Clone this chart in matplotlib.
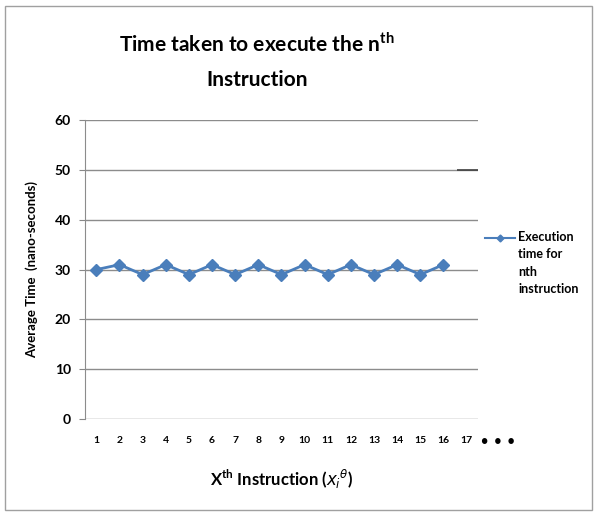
import matplotlib.pyplot as plt
from matplotlib.lines import Line2D
from matplotlib.patches import Rectangle

plt.rcParams['font.family'] = ['Lato', 'DejaVu Sans']

# data
instructions = list(range(1, 17))
avg_time = [30, 31, 29, 31, 29, 31, 29, 31, 29, 31, 29, 31, 29, 31, 29, 31]
tick_labels = [str(i) for i in range(1, 18)]
series_name = 'Execution\ntime for\nnth\ninstruction'

fig = plt.figure(figsize=(5.97, 5.16), dpi=100)
ax = fig.add_axes([0.142, 0.188, 0.659, 0.579])

ax.plot(instructions, avg_time, color='#4a7ebb', linewidth=2,
        marker='D', markersize=6)

ax.set_xlim(0.5, 17.5)
ax.set_ylim(0, 60)
ax.set_yticks(range(0, 61, 10))
ax.set_xticks(range(1, 18))
ax.set_xticklabels(tick_labels, fontsize=7.5, fontweight='bold')
for lab in ax.get_yticklabels():
    lab.set_fontsize(10)
    lab.set_fontweight('bold')
ax.tick_params(axis='x', length=0, pad=12)
ax.tick_params(axis='y', length=4, color='#888888', pad=6)
ax.yaxis.grid(True, color='#8c8c8c', linewidth=1)
ax.set_axisbelow(True)
for s in ['top', 'right', 'bottom']:
    ax.spines[s].set_visible(False)
ax.spines['left'].set_color('#8c8c8c')

# darker bit on the 50 gridline
ax.hlines(50, 16.6, 17.5, color='#404040', linewidth=1.2)

ax.text(1.05, -0.072, '\u2022  \u2022  \u2022', transform=ax.transAxes,
        fontsize=9, fontweight='bold', ha='center', va='center')

ax.set_ylabel('Average Time  (nano-seconds)', fontsize=9.5, fontweight='bold', labelpad=12)
ax.set_xlabel(r'X$^{\mathregular{th}}$ Instruction ($x_i{}^{\theta}$)', fontsize=12,
              fontweight='bold', labelpad=16)

fig.text(0.43, 0.915, r'Time taken to execute the n$^{\mathregular{th}}$', fontsize=15,
         fontweight='bold', ha='center', va='center')
fig.text(0.43, 0.845, 'Instruction', fontsize=15, fontweight='bold', ha='center', va='center')

# legend drawn by hand so the key lines up with the first text line
key = Line2D([0.812, 0.837, 0.862], [0.539, 0.539, 0.539], transform=fig.transFigure,
             color='#4a7ebb', linewidth=1.5, marker='D', markersize=3.5, markevery=[1])
fig.lines.append(key)
fig.text(0.868, 0.553, series_name, fontsize=9, fontweight='bold', ha='left', va='top',
         linespacing=1.55)

fig.patches.append(Rectangle((0.008, 0.012), 0.984, 0.976, transform=fig.transFigure,
                             fill=False, edgecolor='#a0a0a0', linewidth=1))

fig.savefig('out.png', dpi=100)
